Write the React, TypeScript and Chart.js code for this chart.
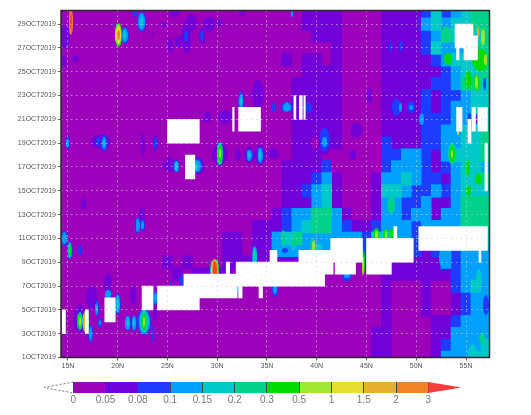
import React, { useEffect, useRef } from "react";
import { Chart, registerables } from "chart.js";

Chart.register(...registerables);

const levelLabels = ["0", "0.05", "0.08", "0.1", "0.15", "0.2", "0.3", "0.5", "1", "1.5", "2", "3"];
const levelColors = ["#9c00ba", "#7200d8", "#1e3cff", "#00a0ff", "#00c8c8", "#00d28c", "#00dc00", "#a0e632", "#e6dc32", "#e6af2d", "#f08228", "#fa3c3c"];
const lonTicks = [15, 20, 25, 30, 35, 40, 45, 50, 55];
const dayTicks = [1, 3, 5, 7, 9, 11, 13, 15, 17, 19, 21, 23, 25, 27, 29];
const firstLon = 14;

// Level index per day (day 30 first, day 1 last) and longitude 14..57
const fieldRows = [
  "000000 00000 00000 00000 00001 11100 00111 12423 455",
  "000000 00000 00000 00000 00001 11100 00111 13434 455",
  "000000 00000 00000 00000 00000 11100 00111 12354 445",
  "000000 00000 00000 00000 00000 00100 00111 12433 355",
  "000000 00000 00000 00000 00101 10100 00111 11234 445",
  "000000 00000 00000 00000 00001 11100 00111 11123 445",
  "000000 00000 00000 00000 00011 11100 00111 11223 554",
  "000000 00000 00000 00000 00011 11100 00111 12122 344",
  "000000 00000 00000 00000 00011 11100 00111 12123 344",
  "000000 00000 00000 00000 00011 11100 00111 12223 334",
  "000000 00000 00000 00000 00011 11100 00111 12233 445",
  "000000 00000 00000 00000 00011 01100 00211 12233 445",
  "000000 00000 00000 00000 00011 10000 00223 32134 445",
  "000000 00000 00000 00000 00111 12000 00233 32123 443",
  "000000 00000 00000 00000 00111 23100 01334 32213 445",
  "000000 00000 00000 00000 00112 34100 01443 22323 444",
  "000000 00000 00000 00000 00111 34100 01332 23113 555",
  "000000 00000 00000 00000 01233 55310 01332 33133 555",
  "000000 00000 00000 00001 11234 55321 12333 23333 555",
  "000000 00000 00000 01101 13453 33333 24433 23333 444",
  "000000 00000 00000 01101 13333 43333 23333 21232 333",
  "000000 00000 10100 01111 11111 11000 11111 11132 333",
  "000000 00000 01011 11000 00000 00000 00111 11112 333",
  "000000 00000 00000 00000 00000 00000 00100 01002 343",
  "000000 00000 00000 00000 00000 00000 00100 01001 233",
  "000000 00000 00000 00000 00000 00000 00100 01001 233",
  "000000 00000 00000 00000 00000 00000 00100 00112 333",
  "000000 00000 00000 00000 00000 00000 01100 00113 333",
  "000000 00000 00000 00000 00000 00000 01100 00123 334",
  "000000 00000 00000 00000 00000 00000 01100 00133 344",
];

// Missing data: lon from, lon to, day from, day to
const missingBlocks = [
  [53.9, 55.7, 27, 29], [54.8, 56.15, 26, 28], [54.05, 54.3, 26, 27],
  [54.05, 54.6, 20, 22], [55.2, 55.5, 19, 21], [55.6, 55.95, 20, 22], [56.2, 57.15, 20, 22], [56.9, 57.15, 15, 19],
  [37.7, 37.9, 21, 23], [38.25, 38.55, 21, 23], [38.7, 38.85, 21, 23],
  [25, 28.2, 19, 21], [26.8, 27.75, 16, 18], [31.55, 31.7, 20, 22], [32.15, 34.35, 20, 22],
  [14.4, 14.75, 3, 5], [16.75, 17.05, 3, 5], [18.7, 19.75, 4, 6], [22.45, 23.55, 5, 7], [24, 28.2, 5, 7],
  [28.2, 32, 6, 7], [26.65, 30.9, 7, 8], [30.9, 31.25, 7, 9], [31.25, 31.9, 7, 8], [31.9, 40.8, 7, 9],
  [32.15, 32.5, 6, 7], [34.2, 34.55, 6, 7], [35.3, 36, 9, 10], [38.2, 41.65, 8, 10], [41.4, 44.6, 9, 11],
  [41.85, 43.9, 8, 9], [45, 49.7, 9, 11], [45, 47.5, 8, 9], [47.75, 48.05, 11, 12], [50.25, 57.15, 10, 12], [56.3, 56.5, 9, 10],
];

// Small features: lon, day, half width (deg), half height (days), level index
const spots = [
  [15.27, 29.2, 0.17, 1.1, 10], [15.27, 29.2, 0.1, 0.6, 11], [14.7, 27.9, 0.5, 1, 1], [14.5, 25.9, 0.35, 0.5, 1], [15.8, 26.1, 0.35, 0.25, 1],
  [20.07, 28.1, 0.35, 1, 6], [20.07, 28.1, 0.3, 0.85, 7], [20.07, 28.1, 0.22, 0.65, 8], [20.07, 28.1, 0.12, 0.4, 10],
  [20.7, 28.05, 0.42, 0.7, 2], [20.7, 28.05, 0.3, 0.55, 3], [20.7, 28.05, 0.15, 0.3, 4],
  [22.4, 29.2, 0.45, 0.8, 2], [22.4, 29.2, 0.35, 0.7, 3], [22.4, 29.2, 0.15, 0.35, 4], [21.75, 29.9, 0.2, 0.3, 2], [23.5, 28.2, 0.1, 0.1, 1], [24.6, 29, 0.25, 0.2, 1],
  [25.75, 29.9, 0.5, 0.3, 1], [26.9, 27.8, 0.5, 1.2, 1], [26.9, 28, 0.2, 0.5, 2], [25.3, 27.2, 0.3, 0.6, 1], [26.1, 27.5, 0.3, 0.5, 1],
  [28.5, 28, 0.3, 0.7, 1], [28.5, 28.05, 0.2, 0.45, 2], [29.2, 29, 0.6, 0.6, 1], [30.2, 29.1, 0.3, 0.3, 1], [27.4, 29.1, 0.6, 0.7, 1], [32.5, 30, 0.3, 0.3, 1],
  [15, 19, 0.2, 0.55, 2], [15, 19, 0.12, 0.3, 3], [18.3, 19.1, 1.05, 0.55, 1], [18.05, 19.1, 0.2, 0.35, 2], [18.65, 19, 0.3, 0.7, 2], [18.65, 19, 0.2, 0.5, 3], [18.65, 19, 0.08, 0.25, 4],
  [22.5, 18.9, 0.2, 1, 1], [23.75, 19, 0.25, 0.7, 1], [23.75, 19, 0.2, 0.5, 2],
  [25.4, 17.1, 0.9, 0.5, 1], [25.2, 17.2, 0.4, 0.6, 1], [25.9, 17.05, 0.3, 0.5, 2], [25.9, 17.05, 0.25, 0.45, 3], [25.9, 17.05, 0.1, 0.3, 4],
  [28.1, 17.1, 0.6, 0.7, 1], [28.05, 17.1, 0.45, 0.6, 2], [28, 17.1, 0.35, 0.5, 3], [27.95, 17, 0.15, 0.3, 4],
  [30.25, 18.1, 0.8, 0.85, 1], [30.25, 18.1, 0.3, 1, 2], [30.25, 18.1, 0.28, 0.95, 4], [30.25, 18.1, 0.25, 0.85, 5], [30.25, 18.1, 0.2, 0.7, 6], [30.25, 18.1, 0.1, 0.35, 7],
  [32.1, 18, 0.3, 0.5, 1], [33.2, 18, 0.5, 0.7, 1], [33.2, 18, 0.35, 0.5, 2], [33.2, 18, 0.25, 0.45, 3], [33.2, 18, 0.1, 0.25, 4],
  [34.3, 18, 0.6, 0.8, 1], [34.3, 18, 0.3, 0.7, 2], [34.3, 18, 0.25, 0.6, 3], [34.3, 18, 0.1, 0.35, 4],
  [29, 21.2, 0.35, 0.5, 1], [30.75, 21.2, 0.7, 0.55, 1], [32.4, 22.5, 0.3, 0.8, 2], [32.4, 22.5, 0.2, 0.6, 3], [32.4, 22.5, 0.1, 0.3, 4], [34.1, 23.1, 0.6, 1.2, 1],
  [14.63, 11, 0.35, 0.6, 2], [14.63, 11, 0.25, 0.5, 3], [15.17, 10, 0.3, 0.75, 2], [15.17, 10, 0.2, 0.7, 3], [15.17, 10, 0.15, 0.6, 5], [15.17, 10, 0.08, 0.45, 6],
  [16.2, 10, 0.2, 0.4, 2], [16.6, 13.9, 0.25, 0.45, 1],
  [22, 12.1, 0.25, 0.65, 2], [22, 12.1, 0.18, 0.55, 3], [22.5, 12.1, 0.22, 0.5, 2], [22.5, 12.1, 0.12, 0.3, 3], [22.4, 12.8, 0.3, 0.8, 1],
  [16.2, 4.3, 0.6, 1.2, 1], [16.2, 4.05, 0.3, 0.75, 4], [16.15, 4.05, 0.2, 0.6, 6], [16.2, 4.05, 0.1, 0.35, 7],
  [16.85, 4, 0.3, 1, 5], [16.8, 4, 0.25, 0.95, 7], [16.7, 4, 0.12, 0.75, 9],
  [17.3, 3, 0.25, 0.75, 2], [17.3, 3, 0.15, 0.55, 3], [17.4, 6, 0.55, 1, 1], [17.9, 5.1, 0.2, 0.7, 2], [17.9, 5.1, 0.12, 0.5, 3], [17.9, 5.1, 0.07, 0.25, 4],
  [18.2, 3.9, 0.2, 0.4, 2], [18.2, 3.9, 0.1, 0.2, 3], [19, 7.2, 0.4, 0.9, 1], [19.05, 6.3, 0.35, 0.35, 2], [19.05, 6.3, 0.3, 0.3, 3],
  [20, 5.5, 0.3, 0.9, 2], [20, 5.5, 0.22, 0.75, 3], [20, 5.5, 0.1, 0.4, 4],
  [21, 3.9, 0.3, 0.65, 2], [21, 3.9, 0.25, 0.55, 3], [21, 3.9, 0.1, 0.3, 4], [21.65, 3.9, 0.28, 0.65, 2], [21.65, 3.9, 0.2, 0.55, 3], [21.65, 3.9, 0.1, 0.3, 4],
  [22.65, 4, 0.7, 1.05, 2], [22.65, 4, 0.55, 1, 3], [22.65, 4, 0.45, 0.85, 4], [22.65, 4, 0.3, 0.8, 5], [22.65, 4, 0.2, 0.65, 6], [22.65, 4, 0.1, 0.4, 7],
  [23.5, 3, 0.1, 0.7, 2], [23.75, 4.7, 0.2, 0.6, 1], [23.75, 6, 0.2, 0.6, 2], [23.75, 6, 0.12, 0.5, 3], [21.55, 6.2, 0.3, 0.8, 1],
  [29.75, 8.3, 0.45, 1, 4], [29.75, 8.3, 0.38, 0.95, 6], [29.75, 8.3, 0.32, 0.9, 8], [29.75, 8.3, 0.27, 0.85, 10], [29.75, 8.3, 0.2, 0.75, 11],
  [33.75, 9.4, 0.25, 0.9, 3], [33.75, 9.4, 0.2, 0.8, 4], [33.75, 9.4, 0.1, 0.5, 5], [32.05, 6.8, 0.08, 0.5, 3],
  [25.4, 7.1, 0.1, 0.3, 2], [26.4, 7.4, 0.2, 0.5, 2],
  [37.5, 30, 0.1, 0.4, 3], [35.7, 22, 0.15, 0.4, 2], [37, 22, 0.6, 0.4, 2], [37, 22, 0.4, 0.3, 3], [37, 22, 0.15, 0.4, 3], [39.2, 22, 0.35, 0.45, 2], [38.9, 22, 0.6, 0.6, 1],
  [48.45, 27.2, 0.2, 0.4, 2], [47.4, 27.1, 0.15, 0.4, 2], [40.8, 19.1, 0.7, 1.1, 1], [40.8, 19.3, 0.5, 1, 2], [40.8, 19.1, 0.25, 0.4, 3],
  [44, 20.1, 0.6, 0.6, 1], [43.6, 18, 0.35, 0.4, 1], [35.65, 18.1, 0.55, 0.45, 1], [45.3, 23, 0.3, 0.6, 1],
  [48, 22, 0.45, 0.7, 2], [48.4, 22, 0.15, 0.35, 3], [49.5, 22, 0.4, 0.5, 2], [49.5, 22, 0.2, 0.2, 3], [50.55, 21, 0.25, 0.5, 3],
  [53.6, 18.1, 0.4, 0.9, 5], [53.6, 18.1, 0.25, 0.7, 6], [53.6, 18.1, 0.1, 0.3, 7], [55.15, 16.9, 0.2, 0.7, 6], [56.3, 16, 0.25, 0.5, 6], [55.2, 15, 0.25, 0.4, 6],
  [55.2, 24.3, 0.35, 0.75, 6], [56.05, 24.1, 0.25, 0.7, 6], [56.05, 24.1, 0.15, 0.55, 7], [53.2, 26.1, 0.4, 0.5, 6], [56.7, 27.9, 0.2, 0.7, 7], [56.2, 28.3, 0.1, 0.5, 9],
  [57, 26, 0.15, 0.5, 7], [56.4, 26, 0.8, 0.9, 6], [56.9, 24, 0.12, 0.5, 2], [53, 28.2, 0.4, 0.6, 5], [54.2, 20, 0.08, 0.3, 8], [56.05, 21, 0.1, 0.4, 1], [55.3, 21.2, 0.15, 0.3, 2],
  [46, 11.4, 0.3, 0.45, 6], [46.9, 11.4, 0.2, 0.4, 6], [47.5, 11.4, 0.2, 0.4, 6], [46, 11.3, 0.15, 0.3, 7], [47, 11.3, 0.1, 0.3, 7], [47.5, 13.8, 0.4, 0.7, 5],
  [39.65, 10.4, 0.3, 0.6, 5], [39.65, 10.3, 0.15, 0.45, 7], [37.65, 10.8, 0.25, 0.8, 4], [37.65, 10.8, 0.15, 0.6, 5], [36.65, 11, 0.2, 0.7, 5], [36, 11, 0.2, 0.5, 3], [36.8, 10, 0.3, 0.2, 2],
  [44.65, 9, 0.15, 1, 6], [44.6, 8.7, 0.08, 0.8, 7], [43, 7.8, 0.5, 0.3, 2], [43, 7.85, 0.3, 0.2, 3], [35.8, 6.7, 0.3, 0.6, 2], [35.8, 6.8, 0.2, 0.45, 3],
  [52.6, 9.4, 0.3, 0.8, 3], [56.3, 7.5, 0.3, 0.9, 4], [55.65, 1.3, 0.4, 0.8, 4], [56.65, 2.6, 0.3, 0.4, 5], [57, 5.4, 0.3, 0.8, 2],
];

const W = 531;
const MAIN_H = 375;
const BAR_H = 40;
const plotLeft = 61;
const plotRight = 489.5;
const plotTop = 10.5;
const plotBottom = 357.5;
const lonMin = 14.3;
const lonMax = 57.36;
const dayMin = 1;
const dayMax = 30.14;

const ellipseCache: Record<string, HTMLCanvasElement> = {};
function ellipseImage(color: string, w: number, h: number) {
  const cw = Math.max(2, Math.ceil(w));
  const ch = Math.max(2, Math.ceil(h));
  const key = color + cw + "x" + ch;
  if (!ellipseCache[key]) {
    const c = document.createElement("canvas");
    c.width = cw;
    c.height = ch;
    const g = c.getContext("2d")!;
    g.fillStyle = color;
    g.beginPath();
    g.ellipse(cw / 2, ch / 2, cw / 2, ch / 2, 0, 0, Math.PI * 2);
    g.fill();
    ellipseCache[key] = c;
  }
  return ellipseCache[key];
}

function buildMainDatasets() {
  const sets: any[] = [];
  let seq = 0;
  const grid = fieldRows.map((r) => r.replace(/ /g, "").split("").map(Number));
  for (let level = 0; level < levelColors.length; level++) {
    const data: any[] = [];
    grid.forEach((row, r) => {
      const day = 30 - r;
      let start = -1;
      for (let i = 0; i <= row.length; i++) {
        const inside = i < row.length && row[i] >= level;
        if (inside && start < 0) start = i;
        if (!inside && start >= 0) {
          data.push({ x: [firstLon + start - 0.5, firstLon + i - 0.5], y: day });
          start = -1;
        }
      }
    });
    if (data.length) {
      sets.push({
        type: "bar", data, backgroundColor: levelColors[level], borderWidth: 0,
        barThickness: 12.6, stack: "field", order: 10000 - seq++,
      });
    }
  }
  const sorted = [...spots].sort((a, b) => a[4] - b[4]);
  sets.push({
    type: "scatter", showLine: false, order: 10000 - seq++,
    data: sorted.map((s) => ({ x: s[0], y: s[1], rx: s[2], ry: s[3], level: s[4] })),
    pointRadius: 3, pointBorderWidth: 0, pointBackgroundColor: "transparent",
    pointStyle: (ctx: any) => {
      const p = ctx.raw;
      if (!p) return "circle";
      const sx = ctx.chart.scales.x;
      const sy = ctx.chart.scales.y;
      const w = Math.abs(sx.getPixelForValue(p.x + p.rx) - sx.getPixelForValue(p.x - p.rx));
      const h = Math.abs(sy.getPixelForValue(p.y + p.ry) - sy.getPixelForValue(p.y - p.ry));
      return ellipseImage(levelColors[p.level], w, h);
    },
  });
  const missing: any[] = [];
  missingBlocks.forEach(([a, b, d0, d1]) => {
    for (let d = d0; d < d1; d++) missing.push({ x: [a, b], y: d + 0.5 });
  });
  sets.push({
    type: "bar", data: missing, backgroundColor: "#ffffff", borderWidth: 0,
    barThickness: 12, stack: "field", order: 10000 - seq++,
  });
  return sets;
}

const framePlugin = {
  id: "frame",
  afterDraw(chart: any) {
    const a = chart.chartArea;
    const c = chart.ctx;
    c.save();
    c.strokeStyle = "#2a2a2a";
    c.lineWidth = 1.5;
    c.strokeRect(a.left, a.top, a.right - a.left, a.bottom - a.top);
    c.restore();
  },
};

const trianglePlugin = {
  id: "triangles",
  afterDraw(chart: any) {
    const s = chart.scales.x;
    const a = chart.chartArea;
    const c = chart.ctx;
    const mid = (a.top + a.bottom) / 2;
    c.save();
    c.fillStyle = levelColors[11];
    c.beginPath();
    c.moveTo(s.getPixelForValue(11), a.top);
    c.lineTo(s.getPixelForValue(12.03), mid);
    c.lineTo(s.getPixelForValue(11), a.bottom);
    c.closePath();
    c.fill();
    c.strokeStyle = "#777";
    c.lineWidth = 1;
    c.setLineDash([2, 2]);
    c.beginPath();
    c.moveTo(s.getPixelForValue(0), a.top);
    c.lineTo(s.getPixelForValue(-0.9), mid);
    c.lineTo(s.getPixelForValue(0), a.bottom);
    c.stroke();
    c.restore();
  },
};

export default function App() {
  const mainRef = useRef<HTMLCanvasElement>(null);
  const barRef = useRef<HTMLCanvasElement>(null);

  useEffect(() => {
    const font = { family: "'Liberation Sans', Arial, sans-serif", size: 7 };
    const main = new Chart(mainRef.current!, {
      type: "bar",
      data: { datasets: buildMainDatasets() },
      plugins: [framePlugin],
      options: {
        indexAxis: "y",
        animation: false,
        responsive: false,
        events: [],
        layout: { padding: { top: plotTop, right: W - plotRight, left: 0, bottom: 0 } },
        plugins: { legend: { display: false }, tooltip: { enabled: false } },
        scales: {
          x: {
            type: "linear", min: lonMin, max: lonMax, stacked: false,
            afterBuildTicks: (s: any) => { s.ticks = lonTicks.map((value) => ({ value })); },
            afterFit: (s: any) => { s.height = MAIN_H - plotBottom; },
            grid: { z: 1, color: "rgba(205,205,205,0.7)", tickColor: "#666", tickLength: 3 },
            border: { display: false, dash: [1.5, 3.5] },
            ticks: { font, color: "#555", maxRotation: 0, padding: 1, callback: (v: any) => v + "N" },
          },
          y: {
            type: "linear", min: dayMin, max: dayMax, offset: false,
            afterBuildTicks: (s: any) => { s.ticks = dayTicks.map((value) => ({ value })); },
            afterFit: (s: any) => { s.width = plotLeft; },
            grid: { z: 1, offset: false, color: "rgba(205,205,205,0.7)", tickColor: "#666", tickLength: 3 },
            border: { display: false, dash: [1.5, 3.5] },
            ticks: { font, color: "#555", padding: 2, callback: (v: any) => v + "OCT2019" },
          },
        },
      } as any,
    });

    const bar = new Chart(barRef.current!, {
      type: "bar",
      data: {
        labels: ["levels"],
        datasets: levelColors.slice(0, 11).map((color, i) => ({
          data: [[i, i + 1]], backgroundColor: color, borderWidth: 0, stack: "scale",
          barPercentage: 1, categoryPercentage: 1,
        })),
      },
      plugins: [trianglePlugin],
      options: {
        indexAxis: "y",
        animation: false,
        responsive: false,
        events: [],
        layout: { padding: { top: 7, left: 73.3, right: W - 428.3, bottom: 0 } },
        plugins: { legend: { display: false }, tooltip: { enabled: false } },
        scales: {
          y: { display: false },
          x: {
            type: "linear", min: 0, max: 11, stacked: false,
            afterBuildTicks: (s: any) => { s.ticks = levelLabels.map((_, value) => ({ value })); },
            afterFit: (s: any) => { s.height = BAR_H - 18; },
            grid: { z: 1, color: "#444", drawTicks: false },
            border: { display: false },
            ticks: {
              font: { family: "'Liberation Sans', Arial, sans-serif", size: 10 }, color: "#777",
              maxRotation: 0, padding: 1, autoSkip: false,
              callback: (v: any) => levelLabels[v],
            },
          },
        },
      } as any,
    });

    return () => {
      main.destroy();
      bar.destroy();
    };
  }, []);

  const canvasStyle = (top: number): React.CSSProperties => ({
    position: "absolute", left: 0, top, filter: "blur(0.7px)",
  });

  return (
    <div style={{ position: "fixed", left: 0, top: 0, width: W, height: 415, background: "#fff", overflow: "hidden" }}>
      <canvas ref={mainRef} width={W} height={MAIN_H} style={canvasStyle(0)} />
      <canvas ref={barRef} width={W} height={BAR_H} style={canvasStyle(MAIN_H)} />
    </div>
  );
}
